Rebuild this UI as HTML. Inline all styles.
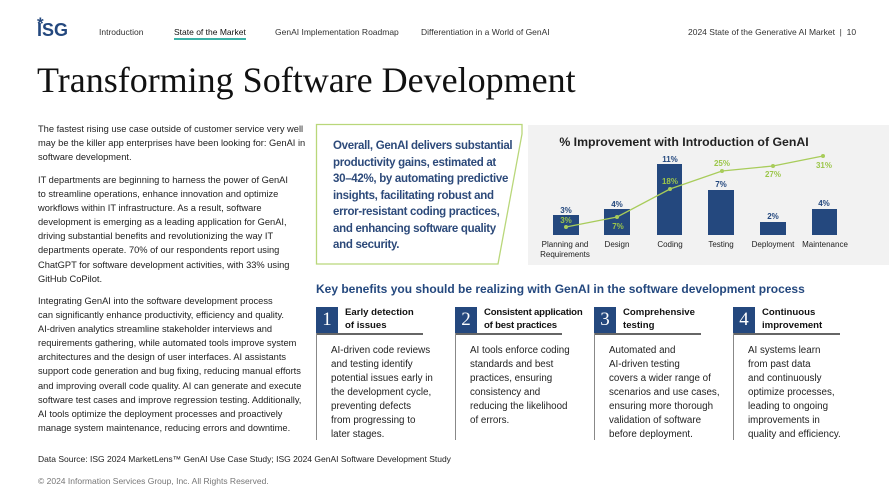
<!DOCTYPE html>
<html><head><meta charset="utf-8"><style>
*{margin:0;padding:0;box-sizing:border-box}
body{width:889px;height:500px;background:#fff;font-family:"Liberation Sans",sans-serif;position:relative;overflow:hidden;color:#222}
.a{position:absolute;white-space:nowrap}
.nav{font-size:8.5px;color:#333;top:27px}
.lt{position:absolute;left:38px;font-size:9.3px;line-height:14.1px;color:#222;white-space:nowrap}
.card{position:absolute;top:307px;width:120px}
.num{position:absolute;left:0;top:0;width:22px;height:26px;background:#24487e;color:#fff;font-family:"Liberation Serif",serif;font-size:19px;text-align:center;line-height:26px}
.ch{position:absolute;left:29px;top:0;font-size:9.6px;font-weight:bold;line-height:12.5px;color:#111;white-space:nowrap}
.hl{position:absolute;left:0;top:26px;width:107px;height:1.5px;background:#666}
.vl{position:absolute;left:0;top:26px;width:1px;height:107px;background:#888}
.cb{position:absolute;left:15px;top:37px;font-size:9.8px;line-height:14px;color:#222;white-space:nowrap}
</style></head><body>
<div class="a" style="left:37px;top:14px;color:#24487e;font-weight:bold;font-size:17px;letter-spacing:-0.5px">*<br></div>
<div class="a" style="left:37px;top:20px;color:#24487e;font-weight:bold;font-size:18px;font-family:'Liberation Sans Narrow','Liberation Sans',sans-serif">ISG</div>
<div class="a nav" style="left:99px">Introduction</div>
<div class="a nav" style="left:174px;color:#111">State of the Market</div>
<div class="a" style="left:174px;top:38px;width:72px;height:1.5px;background:#3bb0a6"></div>
<div class="a nav" style="left:275px">GenAI Implementation Roadmap</div>
<div class="a nav" style="left:421px">Differentiation in a World of GenAI</div>
<div class="a nav" style="left:688px">2024 State of the Generative AI Market &nbsp;| &nbsp;10</div>
<div class="a" style="left:37px;top:59px;font-family:'Liberation Serif',serif;font-size:36px;color:#111">Transforming Software Development</div>

<div class="lt" style="top:122px">The fastest rising use case outside of customer service very well<br>may be the killer app enterprises have been looking for: GenAI in<br>software development.</div>
<div class="lt" style="top:173px">IT departments are beginning to harness the power of GenAI<br>to streamline operations, enhance innovation and optimize<br>workflows within IT infrastructure. As a result, software<br>development is emerging as a leading application for GenAI,<br>driving substantial benefits and revolutionizing the way IT<br>departments operate. 70% of our respondents report using<br>ChatGPT for software development activities, with 33% using<br>GitHub CoPilot.</div>
<div class="lt" style="top:294px">Integrating GenAI into the software development process<br>can significantly enhance productivity, efficiency and quality.<br>AI-driven analytics streamline stakeholder interviews and<br>requirements gathering, while automated tools improve system<br>architectures and the design of user interfaces. AI assistants<br>support code generation and bug fixing, reducing manual efforts<br>and improving overall code quality. AI can generate and execute<br>software test cases and improve regression testing. Additionally,<br>AI tools optimize the deployment processes and proactively<br>manage system maintenance, reducing errors and downtime.</div>

<svg class="a" style="left:0;top:0" width="889" height="500">
<rect x="528" y="125" width="361" height="140" fill="#f2f2f2"/>
<polygon points="316.5,124.5 522,124.5 522,134 498,264 316.5,264" fill="#fff" stroke="#b9d77a" stroke-width="1.3"/>
<text x="684" y="146" text-anchor="middle" font-size="12.3" font-weight="bold" fill="#222" font-family="Liberation Sans">% Improvement with Introduction of GenAI</text>
<g fill="#24487e">
<rect x="553" y="215" width="26" height="20"/><rect x="604" y="209" width="26" height="26"/><rect x="657" y="164" width="25" height="71"/><rect x="708" y="190" width="26" height="45"/><rect x="760" y="222" width="26" height="13"/><rect x="812" y="209" width="25" height="26"/>
</g>
<g font-size="8" font-weight="bold" fill="#24487e" text-anchor="middle" font-family="Liberation Sans">
<text x="566" y="213">3%</text><text x="617" y="207">4%</text><text x="670" y="162">11%</text><text x="721" y="187">7%</text><text x="773" y="219">2%</text><text x="824" y="206">4%</text>
</g>
<polyline points="566,227 617,217 670,189 722,171 773,166 823,156" fill="none" stroke="#a8cc5a" stroke-width="1.3"/>
<g fill="#a8cc5a"><circle cx="566" cy="227" r="2"/><circle cx="617" cy="217" r="2"/><circle cx="670" cy="189" r="2"/><circle cx="722" cy="171" r="2"/><circle cx="773" cy="166" r="2"/><circle cx="823" cy="156" r="2"/></g>
<g font-size="8" font-weight="bold" fill="#9cc64a" text-anchor="middle" font-family="Liberation Sans">
<text x="566" y="223">3%</text><text x="618" y="229">7%</text><text x="670" y="184">18%</text><text x="722" y="166">25%</text><text x="773" y="177">27%</text><text x="824" y="168">31%</text>
</g>
<g font-size="8" fill="#222" text-anchor="middle" font-family="Liberation Sans">
<text x="565" y="247">Planning and</text><text x="565" y="257">Requirements</text><text x="617" y="247">Design</text><text x="670" y="247">Coding</text><text x="721" y="247">Testing</text><text x="773" y="247">Deployment</text><text x="825" y="247">Maintenance</text>
</g>
</svg>
<div class="a" style="left:333px;top:138px;font-size:11.5px;line-height:16.5px;color:#2d4a7a;font-weight:bold;letter-spacing:-0.3px">Overall, GenAI delivers substantial<br>productivity gains, estimated at<br>30–42%, by automating predictive<br>insights, facilitating robust and<br>error-resistant coding practices,<br>and enhancing software quality<br>and security.</div>

<div class="a" style="left:316px;top:282px;font-size:12px;font-weight:bold;color:#24487e">Key benefits you should be realizing with GenAI in the software development process</div>

<div class="card" style="left:316px"><div class="num">1</div><div class="ch">Early detection<br>of issues</div><div class="hl"></div><div class="vl"></div><div class="cb">AI-driven code reviews<br>and testing identify<br>potential issues early in<br>the development cycle,<br>preventing defects<br>from progressing to<br>later stages.</div></div>
<div class="card" style="left:455px"><div class="num">2</div><div class="ch" style="letter-spacing:-0.2px">Consistent application<br>of best practices</div><div class="hl"></div><div class="vl"></div><div class="cb">AI tools enforce coding<br>standards and best<br>practices, ensuring<br>consistency and<br>reducing the likelihood<br>of errors.</div></div>
<div class="card" style="left:594px"><div class="num">3</div><div class="ch">Comprehensive<br>testing</div><div class="hl"></div><div class="vl"></div><div class="cb">Automated and<br>AI-driven testing<br>covers a wider range of<br>scenarios and use cases,<br>ensuring more thorough<br>validation of software<br>before deployment.</div></div>
<div class="card" style="left:733px"><div class="num">4</div><div class="ch">Continuous<br>improvement</div><div class="hl"></div><div class="vl"></div><div class="cb">AI systems learn<br>from past data<br>and continuously<br>optimize processes,<br>leading to ongoing<br>improvements in<br>quality and efficiency.</div></div>

<div class="a" style="left:38px;top:454px;font-size:8.5px;color:#222">Data Source: ISG 2024 MarketLens™ GenAI Use Case Study; ISG 2024 GenAI Software Development Study</div>
<div class="a" style="left:38px;top:476px;font-size:8.5px;color:#777">© 2024 Information Services Group, Inc. All Rights Reserved.</div>
</body></html>
